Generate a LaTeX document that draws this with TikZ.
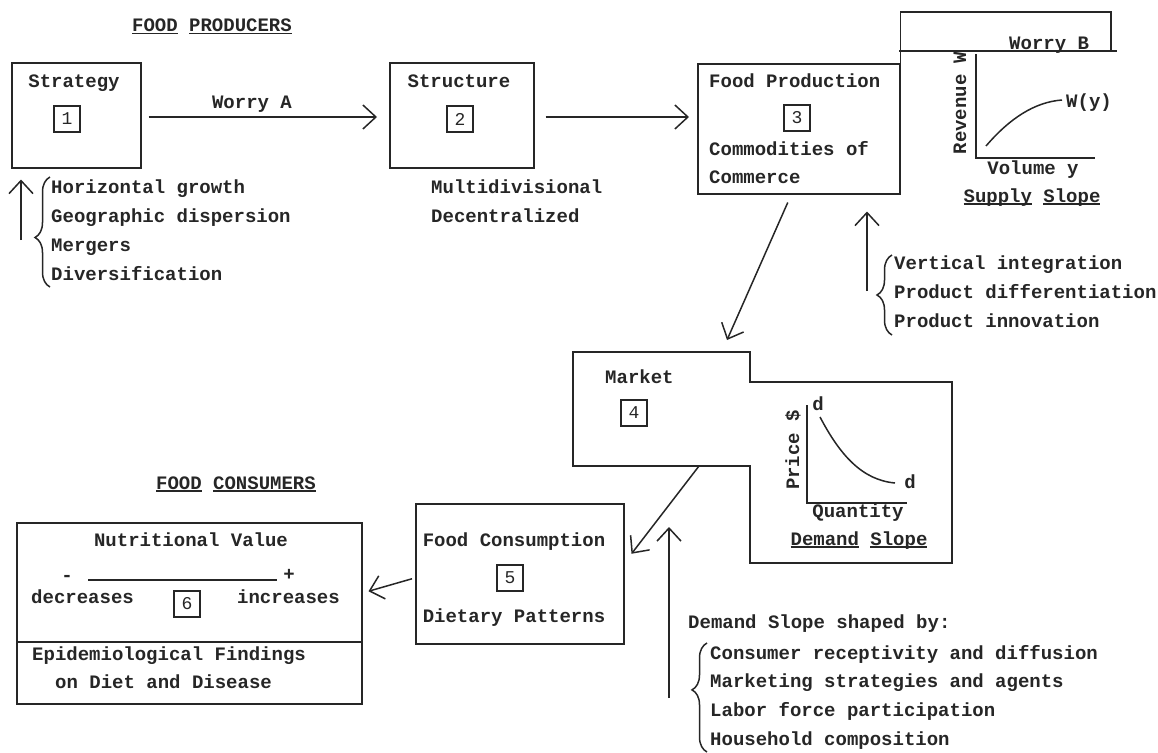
\documentclass[tikz,border=0pt]{standalone}
\usepackage{fontspec}
\newfontfamily\typefont{Liberation Mono}
\usepackage{tikz}
\usetikzlibrary{calc}
\usetikzlibrary{arrows.meta}
\usetikzlibrary{decorations.pathreplacing}
\newcommand{\ulword}[1]{%
  \setbox0=\hbox{#1}%
  \rlap{\rule[-2.5pt]{\wd0}{1.4pt}}\box0\relax}

\begin{document}
\begin{tikzpicture}[%
            x=1pt,
            y=-1pt,
            ink/.style={black!85},
            wall/.style={ink, line width=1.5pt},
            box/.style={%
              draw,
              wall,
              anchor=north west,
              inner sep=0pt,
            },
            tag/.style={%
              draw,
              ink,
              line width=1.3pt,
              minimum size=26pt,
              inner sep=0pt,
              font=\typefont\fontsize{18}{18}\selectfont,
            },
            words/.style={%
              ink,
              inner sep=0pt,
              font=\typefont\bfseries\fontsize{19}{23}\selectfont,
            },
            flow/.style={wall, -{Straight Barb[length=13pt,width=24pt]}},
            curl/.style={wall, decorate, decoration={brace, amplitude=15pt}},
          ]
            \useasboundingbox (0,0) rectangle (1158,752);

            \node [box, minimum width=129pt, minimum height=105pt] (strategy) at (11,62) {};
            \node [box, minimum width=144pt, minimum height=105pt] (structure) at (389,62) {};
            \node [box, minimum width=202pt, minimum height=130pt] (production) at (697,63) {};
            \node [box, minimum width=208pt, minimum height=140pt] (consumption) at (415,503) {};
            \node [box, minimum width=345pt, minimum height=181pt] (nutrition) at (16,522) {};
            \coordinate (split) at (0,642);
            \draw [wall] (nutrition.west |- split) -- (nutrition.east |- split);

            \draw [wall] (production.north east) |- (1111,12) -- (1111,51);
            \draw [wall] (899,51) -- (1117,51);

            \coordinate (market nw) at (573,352);
            \draw [wall] (market nw) -- (750,352) -- (750,382) -- (952,382) -- (952,563)
              -- (750,563) -- (750,466) -- (573,466) -- cycle;

            \foreach \n/\x/\y in {1/67/119, 2/460/119, 3/797/118, 4/634/413, 5/510/578, 6/187/604}
              \node [tag] (tag \n) at (\x,\y) {\n};

            \node [%
              words,
              anchor=base,
            ] (producers) at (212,32) {\ulword{FOOD} \ulword{PRODUCERS}};
            \node [words, anchor=base] (strategy name) at (74,87) {Strategy};
            \node [words, anchor=base] (worry a) at (252,108) {Worry A};
            \node [words, anchor=base] (structure name) at (459,87) {Structure};
            \foreach \line [count=\i] in {Horizontal growth, Geographic dispersion, Mergers, Diversification}
              \node [words, anchor=base west] (growth \i) at (51,{193+29*(\i-1)}) {\line};
            \foreach \line [count=\i] in {Multidivisional, Decentralized}
              \node [words, anchor=base west] (form \i) at (431,{193+29*(\i-1)}) {\line};

            \node [words, anchor=base west] (production name) at (709,87) {Food Production};
            \node [words, anchor=base west] (commodities) at (709,155) {Commodities of};
            \node [words, anchor=base west] (commerce) at (709,183) {Commerce};
            \node [words, anchor=base west] (worry b) at (1009,49) {Worry B};
            \foreach \line [count=\i] in {Vertical integration, Product differentiation, Product innovation}
              \node [words, anchor=base west] (product \i) at (894,{269+29*(\i-1)}) {\line};

            \draw [wall] (976,54) |- (1095,158);
            \draw [wall] (986,146) .. controls (1010,118) and (1035,102) .. (1062,100);
            \node [words, anchor=base west] (w of y) at (1066,107) {W(y)};
            \node [%
              words,
              anchor=base,
              rotate=90,
            ] (revenue) at (966,103) {Revenue W};
            \node [words, anchor=base] (volume) at (1033,174) {Volume y};
            \node [words, anchor=base] (supply) at (1032,202) {\ulword{Supply} \ulword{Slope}};

            \node [words, anchor=base west] (market name) at (605,383) {Market};
            \draw [wall] (807,405) |- (907,503);
            \draw [wall] (820,417) .. controls (840,455) and (862,480) .. (895,483);
            \node [words, anchor=base] (d high) at (818,410) {d};
            \node [words, anchor=base] (d low) at (910,488) {d};
            \node [%
              words,
              anchor=base,
              rotate=90,
            ] (price) at (799,450) {Price \$};
            \node [words, anchor=base] (quantity) at (858,517) {Quantity};
            \node [words, anchor=base] (demand) at (859,545) {\ulword{Demand} \ulword{Slope}};

            \node [words, anchor=base] (consumption name) at (514,546) {Food Consumption};
            \node [words, anchor=base] (patterns) at (514,622) {Dietary Patterns};

            \node [%
              words,
              anchor=base,
            ] (consumers) at (236,489) {\ulword{FOOD} \ulword{CONSUMERS}};
            \node [words, anchor=base] (nutrition name) at (191,546) {Nutritional Value};
            \node [words] (minus) at (67,578) {-};
            \node [words] (plus) at (289,575) {+};
            \draw [wall] (88,580) -- (277,580);
            \node [words, anchor=base west] (decreases) at (31,603) {decreases};
            \node [words, anchor=base east] (increases) at (340,603) {increases};
            \node [words, anchor=base west] (findings) at (32,660) {Epidemiological Findings};
            \node [words, anchor=base west] (diet) at (55,688) {on Diet and Disease};

            \node [words, anchor=base west] (shaped by) at (688,628) {Demand Slope shaped by:};
            \foreach \line [count=\i] in {Consumer receptivity and diffusion, Marketing strategies and agents, Labor force participation, Household composition}
              \node [words, anchor=base west] (shaper \i) at (710,{659+28.7*(\i-1)}) {\line};

            \coordinate (flow level) at (0,117);
            \draw [flow, shorten <=7pt, shorten >=12pt] (strategy.east |- flow level) -- (structure.west |- flow level);
            \draw [flow, shorten <=11pt, shorten >=8pt] (structure.east |- flow level) -- (production.west |- flow level);
            \coordinate (market in) at (727,340);
            \draw [flow] ($(production.south)+(-11,8)$) -- (market in);
            \coordinate (market out) at (699,466);
            \draw [flow] (market out) -- ($(consumption.east)+(7,-20)$);
            \draw [flow] ($(consumption.west)+(-3,5)$) -- ($(nutrition.east)+(6,-22)$);

            \coordinate (growth push) at (21,240);
            \draw [flow, shorten >=11pt] (growth push) -- (growth push |- strategy.south);
            \coordinate (innovation push) at (867,291);
            \draw [flow, shorten >=17pt] (innovation push) -- (innovation push |- production.south);
            \coordinate (demand push) at (669,698);
            \coordinate (demand aim) at (669,527);
            \draw [flow] (demand push) -- (demand aim);

            \draw [curl, decoration={aspect=0.45}] (50,287) -- (50,177);
            \draw [curl, decoration={aspect=0.5}] (892,335) -- (892,255);
            \draw [curl, decoration={aspect=0.57}] (707,752) -- (707,643);
          \end{tikzpicture}
\end{document}
